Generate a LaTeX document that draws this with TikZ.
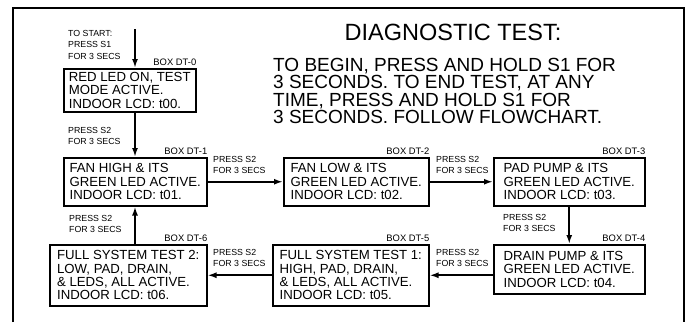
\documentclass[tikz,border=0pt]{standalone}
\usepackage{fontspec}
\setmainfont{Liberation Sans}
\usetikzlibrary{arrows.meta,positioning}

\begin{document}
\begin{tikzpicture}[
  x=1pt,y=-1pt,
  box/.style={draw,line width=1.5pt,anchor=north west,align=left,inner sep=0pt,
    font=\fontsize{13.2}{13.4}\selectfont},
  boxlbl/.style={anchor=base east,inner sep=0pt,font=\fontsize{9.4}{11}\selectfont},
  press/.style={anchor=north west,align=left,inner sep=0pt,font=\fontsize{8.8}{11.5}\selectfont},
  arr/.style={-{Latex[length=9pt,width=6pt]},line width=1.8pt}
]
  \useasboundingbox (0,0) rectangle (688,322);
  \draw[line width=2.2pt] (13,322) -- (13,8) -- (684,8) -- (684,322);

  \node[font=\fontsize{23.5}{24}\selectfont,inner sep=0pt] (title) at (453,32) {DIAGNOSTIC TEST:};
  \node[anchor=north west,align=left,inner sep=0pt,font=\fontsize{19}{17.3}\selectfont] (intro) at (273,58)
    {TO BEGIN, PRESS AND HOLD S1 FOR\\3 SECONDS. TO END TEST, AT ANY\\TIME, PRESS AND HOLD S1 FOR\\3 SECONDS. FOLLOW FLOWCHART.};

  % flowchart boxes
  \node[box,minimum width=132pt,minimum height=43pt] (dt0) at (63,68) {RED LED ON, TEST\\MODE ACTIVE.\\INDOOR LCD: t00.};
  \node[box,minimum width=143pt,minimum height=48pt] (dt1) at (63,157) {FAN HIGH \& ITS\\GREEN LED ACTIVE.\\INDOOR LCD: t01.};
  \node[box,minimum width=145pt,minimum height=48pt] (dt2) at (283,157) {FAN LOW \& ITS\\GREEN LED ACTIVE.\\INDOOR LCD: t02.};
  \node[box,minimum width=151pt,minimum height=48pt] (dt3) at (493,157) {PAD PUMP \& ITS\\GREEN LED ACTIVE.\\INDOOR LCD: t03.};
  \node[box,minimum width=151pt,minimum height=49pt] (dt4) at (493,244) {DRAIN PUMP \& ITS\\GREEN LED ACTIVE.\\INDOOR LCD: t04.};
  \node[box,minimum width=156pt,minimum height=61pt] (dt5) at (272,244) {FULL SYSTEM TEST 1:\\HIGH, PAD, DRAIN,\\\& LEDS, ALL ACTIVE.\\INDOOR LCD: t05.};
  \node[box,minimum width=157pt,minimum height=61pt] (dt6) at (49,244) {FULL SYSTEM TEST 2:\\LOW, PAD, DRAIN,\\\& LEDS, ALL ACTIVE.\\INDOOR LCD: t06.};

  \node[boxlbl] (l0) at ([yshift=3pt]dt0.north east) {BOX DT-0};
  \node[boxlbl] (l1) at ([yshift=3pt]dt1.north east) {BOX DT-1};
  \node[boxlbl] (l2) at ([yshift=3pt]dt2.north east) {BOX DT-2};
  \node[boxlbl] (l3) at ([yshift=3pt]dt3.north east) {BOX DT-3};
  \node[boxlbl] (l4) at ([yshift=3pt]dt4.north east) {BOX DT-4};
  \node[boxlbl] (l5) at ([yshift=3pt]dt5.north east) {BOX DT-5};
  \node[boxlbl] (l6) at ([yshift=3pt]dt6.north east) {BOX DT-6};

  % key presses
  \node[press] (p0) at (68,30) {TO START:\\PRESS S1\\FOR 3 SECS};
  \node[press] (p1) at (68,127) {PRESS S2\\FOR 3 SECS};
  \node[press] (p2) at (213,156) {PRESS S2\\FOR 3 SECS};
  \node[press] (p3) at (436,156) {PRESS S2\\FOR 3 SECS};
  \node[press] (p4) at (503,214) {PRESS S2\\FOR 3 SECS};
  \node[press] (p5) at (436,249) {PRESS S2\\FOR 3 SECS};
  \node[press] (p6) at (213,249) {PRESS S2\\FOR 3 SECS};
  \node[press] (p7) at (69,215) {PRESS S2\\FOR 3 SECS};

  \coordinate (start) at (135,29);
  \draw[arr] (start) -- (start |- dt0.north);
  \draw[arr] (start |- dt0.south) -- (start |- dt1.north);
  \draw[arr] (dt1) -- (dt2);
  \draw[arr] (dt2) -- (dt3);
  \draw[arr] (dt3) -- (dt4);
  \draw[arr] (dt4.west |- dt5.east) -- (dt5.east);
  \draw[arr] (dt5) -- (dt6);
  \draw[arr] (start |- dt6.north) -- (start |- dt1.south);
\end{tikzpicture}
\end{document}
